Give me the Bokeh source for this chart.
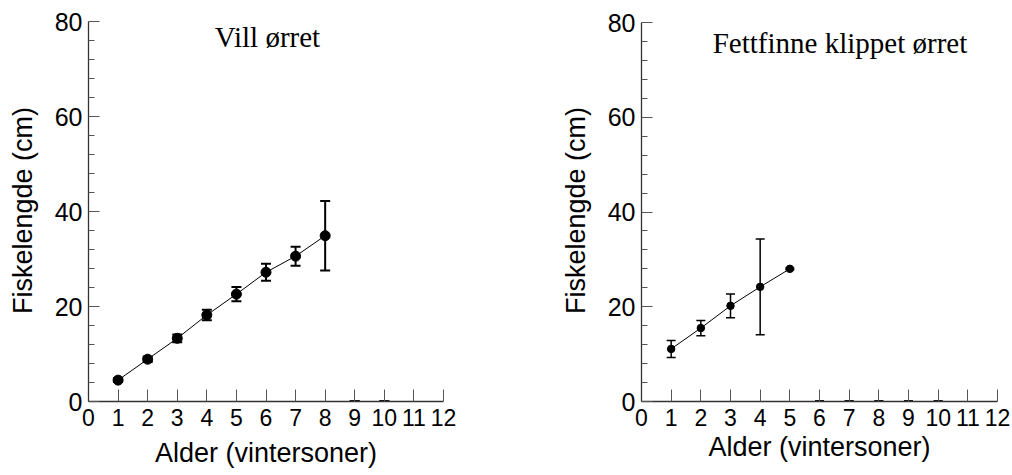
from bokeh.plotting import figure
from bokeh.layouts import row
from bokeh.models import (ColumnDataSource, Whisker, TeeHead, FixedTicker,
                          Range1d, Label)
from bokeh.embed import file_html
from bokeh.resources import INLINE

# ---- data ----
wild_age = [1, 2, 3, 4, 5, 6, 7, 8]
wild_len = [4.5, 8.9, 13.3, 18.2, 22.6, 27.2, 30.6, 34.9]
wild_sd = [0.4, 0.6, 0.8, 1.1, 1.5, 1.8, 2.0, 7.3]
wild_zero_age = [9, 10]

clip_age = [1, 2, 3, 4, 5]
clip_len = [11.1, 15.5, 20.2, 24.2, 28.0]
clip_sd = [1.8, 1.6, 2.5, 10.1, 0.2]
clip_zero_age = [6, 7, 8, 9, 10]

x_ticks = list(range(0, 13))
y_ticks = [0, 20, 40, 60, 80]
y_minor = [v for v in range(0, 81, 4) if v % 20 != 0]

X_LABEL = "Alder (vintersoner)"
Y_LABEL = "Fiskelengde (cm)"

SANS = "Liberation Sans"
SERIF = "Liberation Serif"


def make_panel(ages, lens, sds, zero_ages, title, title_x, title_y,
               border_left, border_right, y_end, marker_size, err_w, cap,
               xlabel_standoff):
    p = figure(width=506, height=475, output_backend="svg",
               toolbar_location=None, x_range=Range1d(0, 12),
               y_range=Range1d(0, y_end),
               min_border_left=border_left, min_border_right=border_right,
               min_border_top=19, min_border_bottom=74)
    p.outline_line_color = None
    p.grid.visible = False
    p.background_fill_color = "white"
    p.border_fill_color = "white"

    src = ColumnDataSource(dict(
        x=ages, y=lens,
        lo=[a - b for a, b in zip(lens, sds)],
        hi=[a + b for a, b in zip(lens, sds)]))
    p.line("x", "y", source=src, line_color="black", line_width=1)
    w = Whisker(base="x", lower="lo", upper="hi", source=src,
                line_color="black", line_width=err_w,
                upper_head=TeeHead(size=cap, line_color="black", line_width=err_w),
                lower_head=TeeHead(size=cap, line_color="black", line_width=err_w))
    p.add_layout(w)
    p.scatter("x", "y", source=src, size=marker_size, color="black")

    # age classes with no fish: zero-length bars drawn as caps on the axis
    zsrc = ColumnDataSource(dict(x=zero_ages, lo=[0] * len(zero_ages),
                                 hi=[0] * len(zero_ages)))
    p.add_layout(Whisker(base="x", lower="lo", upper="hi", source=zsrc,
                         line_color="black", line_width=2.5,
                         upper_head=TeeHead(size=cap, line_color="black", line_width=2.5),
                         lower_head=TeeHead(size=cap, line_color="black", line_width=2.5)))

    p.add_layout(Label(x=title_x, y=title_y, text=title, text_align="center",
                       text_baseline="alphabetic", text_font=SERIF,
                       text_font_size="29px", text_color="black"))

    for ax in (p.xaxis[0], p.yaxis[0]):
        ax.axis_line_color = "#333333"
        ax.axis_line_width = 1.3
        ax.major_tick_line_color = "#555555"
        ax.minor_tick_line_color = "#555555"
        ax.major_tick_out = 0
        ax.minor_tick_out = 0
        ax.major_label_text_font = SANS
        ax.major_label_text_color = "black"
        ax.axis_label_text_font = SANS
        ax.axis_label_text_font_style = "normal"
        ax.axis_label_text_color = "black"
        ax.axis_label_text_font_size = "27px"

    p.xaxis.ticker = FixedTicker(ticks=x_ticks)
    p.xaxis.major_tick_in = 12
    p.xaxis.minor_tick_in = 0
    p.xaxis.major_label_text_font_size = "23px"
    p.xaxis.major_label_standoff = 7
    p.xaxis.axis_label = X_LABEL
    p.xaxis.axis_label_standoff = xlabel_standoff

    p.yaxis.ticker = FixedTicker(ticks=y_ticks, minor_ticks=y_minor)
    p.yaxis.bounds = (0, 80)
    p.yaxis.major_tick_in = 11
    p.yaxis.minor_tick_in = 6
    p.yaxis.major_label_text_font_size = "25px"
    p.yaxis.major_label_standoff = 6
    p.yaxis.axis_label = Y_LABEL
    p.yaxis.axis_label_standoff = 14
    return p


# both frames share top/bottom (row aligns them); the top of each y range
# leaves the small gap above 80 that the reference shows
p1 = make_panel(wild_age, wild_len, wild_sd, wild_zero_age, "Vill ørret",
                6.05, 76.84, 88, 63, 80 + 2 / 4.75, 10, 2, 10, 9)
p2 = make_panel(clip_age, clip_len, clip_sd, clip_zero_age,
                "Fettfinne klippet ørret", 6.69, 75.57, 135, 15,
                80 + 3 / 4.7375, 7.5, 1.5, 9, 3)

layout = row(p1, p2)
open("out.html", "w").write(file_html(layout, INLINE))
